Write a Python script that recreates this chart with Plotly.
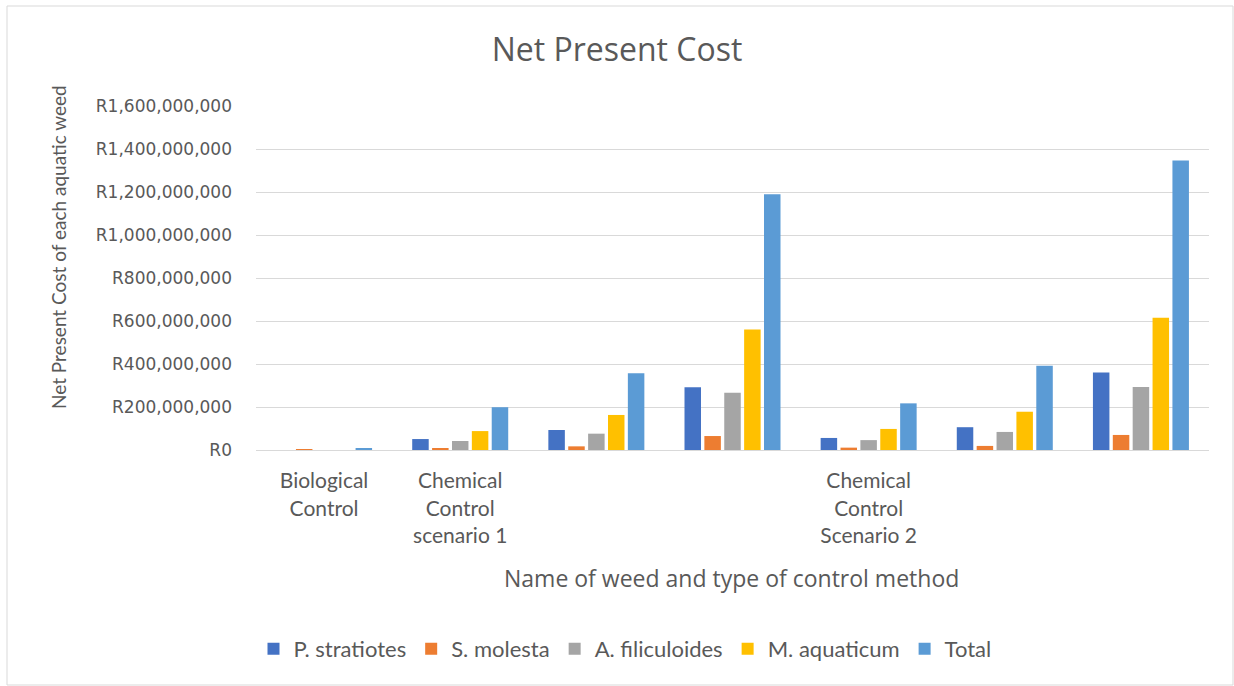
import plotly.graph_objects as go

categories = [0, 1, 2, 3, 4, 5, 6]
tick_labels = ["Biological<br>Control", "Chemical<br>Control<br>scenario 1", "", "",
               "Chemical<br>Control<br>Scenario 2", "", ""]
series_names = ["P. stratiotes", "S. molesta", "A. filiculoides", "M. aquaticum", "Total"]
p_stratiotes = [0, 51e6, 93e6, 292e6, 56e6, 106e6, 361e6]
s_molesta = [1.5e6, 9e6, 17e6, 65e6, 11e6, 19e6, 70e6]
a_filiculoides = [0, 42e6, 76e6, 266e6, 46e6, 84e6, 293e6]
m_aquaticum = [0, 88e6, 163e6, 560e6, 98e6, 178e6, 615e6]
total = [8e6, 199e6, 357e6, 1189e6, 217e6, 392e6, 1347e6]
y_ticks = [0, 200e6, 400e6, 600e6, 800e6, 1000e6, 1200e6, 1400e6, 1600e6]
y_tick_labels = ["R0", "R200,000,000", "R400,000,000", "R600,000,000", "R800,000,000",
                 "R1,000,000,000", "R1,200,000,000", "R1,400,000,000", "R1,600,000,000"]

colors = ["#4472C4", "#ED7D31", "#A5A5A5", "#FFC000", "#5B9BD5"]
values = [p_stratiotes, s_molesta, a_filiculoides, m_aquaticum, total]

W, H = 1234, 686
L, R, T, B = 256, 25, 106, 236
pw, ph = W - L - R, H - T - B

fig = go.Figure()
for name, vals, c in zip(series_names, values, colors):
    fig.add_trace(go.Bar(x=categories, y=vals, name=name, marker_color=c,
                         marker_line_width=0))

def px_x(p):
    return (p - L) / pw

def px_y(p):
    return (H - B - p) / ph

grey = "#595959"
fig.update_layout(
    width=W, height=H,
    margin=dict(l=L, r=R, t=T, b=B),
    paper_bgcolor="white", plot_bgcolor="white",
    barmode="group", bargap=0.27, bargroupgap=0.17,
    font=dict(family="Lato", color=grey),
    title=dict(text="Net Present Cost", x=0.5, xref="container", xanchor="center",
               y=1 - 50 / H, yref="container", yanchor="middle",
               font=dict(size=32, color=grey, family="Open Sans")),
    showlegend=True,
    legend=dict(orientation="h", x=px_x(625), xanchor="center", y=px_y(649), yanchor="middle",
                font=dict(size=22, color=grey, family="Lato"), itemwidth=30,
                traceorder="normal"),
    xaxis=dict(range=[-0.5, 6.5], tickvals=categories, ticktext=tick_labels,
               showgrid=False, showline=True, linecolor="#d9d9d9", linewidth=1,
               ticks="", ticklabelstandoff=12,
               tickfont=dict(size=21, color=grey, family="Lato"), zeroline=False),
    yaxis=dict(range=[0, 1600e6], tickvals=y_ticks, ticktext=y_tick_labels,
               showgrid=True, gridcolor="#d9d9d9", gridwidth=1, zeroline=False,
               showline=False, ticks="", ticklabelstandoff=23,
               tickfont=dict(size=17, color=grey, family="DejaVu Sans")),
    annotations=[
        dict(text="Name of weed and type of control method", xref="paper", yref="paper",
             x=px_x(731), y=px_y(578), xanchor="center", yanchor="middle",
             showarrow=False, font=dict(size=23, color=grey, family="Open Sans")),
        dict(text="Net Present Cost of each aquatic weed", xref="paper", yref="paper",
             x=px_x(59), y=px_y(247), xanchor="center", yanchor="middle", textangle=-90,
             showarrow=False, font=dict(size=19, color=grey, family="Lato")),
    ],
    shapes=[dict(type="rect", xref="paper", yref="paper",
                 x0=px_x(7), x1=px_x(1233), y0=px_y(685), y1=px_y(6),
                 line=dict(color="#d9d9d9", width=1), fillcolor="rgba(0,0,0,0)", layer="below")],
)

fig.write_html("out.html")
